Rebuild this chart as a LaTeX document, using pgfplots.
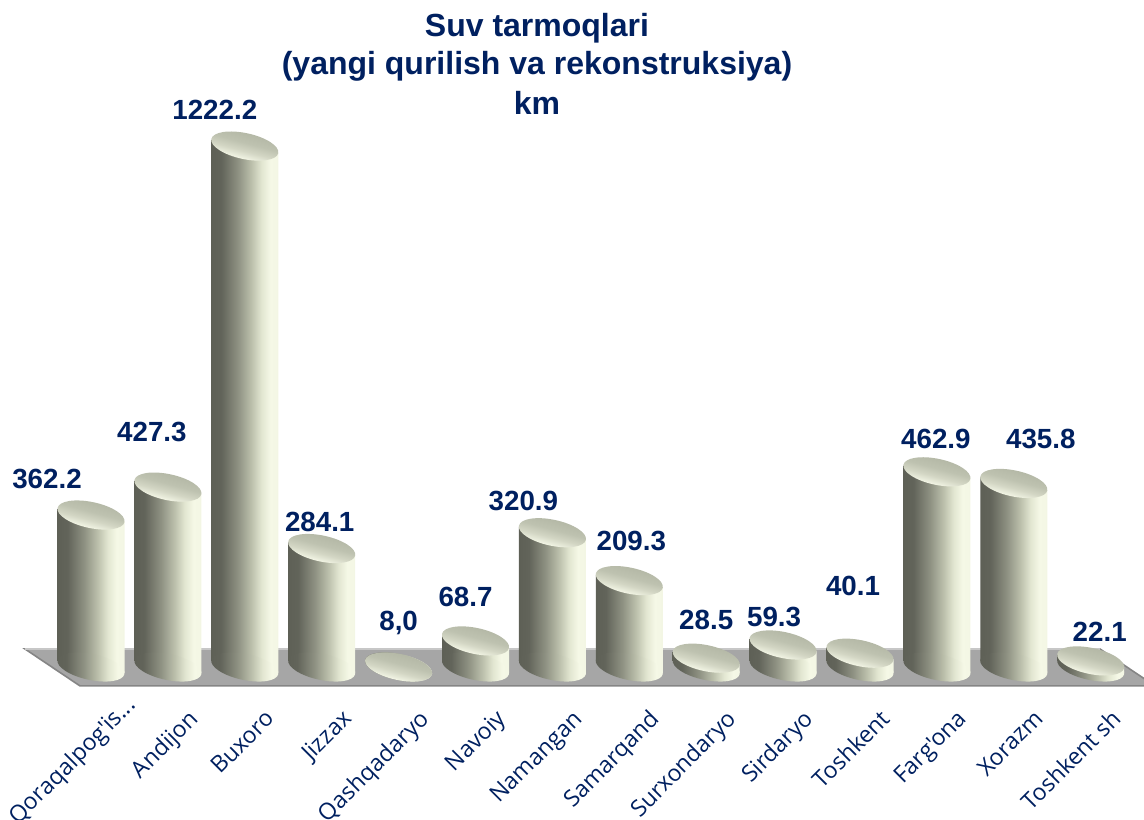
\documentclass[border=0pt]{standalone}
\usepackage{fontspec}
\setmainfont{Liberation Sans}
\newfontfamily\tickfont{Open Sans}
\usepackage{pgfplots}
\usepackage{pgfplotstable}
\pgfplotsset{compat=1.18}
\newcommand\qq{Qoraqalpog'is...\hspace*{-15pt}}
\definecolor{navy}{HTML}{002060}
\definecolor{ca}{HTML}{5E6056}
\definecolor{cb}{HTML}{62645A}
\definecolor{cc}{HTML}{8F9283}
\definecolor{cd}{HTML}{BCC0AC}
\definecolor{ce}{HTML}{E2E6D1}
\definecolor{cf}{HTML}{F5F8E6}
\definecolor{cg}{HTML}{F3F6E4}
\definecolor{ta}{HTML}{F4F6E6}
\definecolor{tb}{HTML}{E6E9D8}
\definecolor{tc}{HTML}{D3D6C4}
\definecolor{td}{HTML}{BEC2B0}
\definecolor{te}{HTML}{B0B4A2}
\pgfdeclarehorizontalshading{cylsh}{100bp}{
  color(0bp)=(ca); color(25bp)=(ca); color(32.5bp)=(cb); color(45bp)=(cc);
  color(55bp)=(cd); color(62.5bp)=(ce); color(69bp)=(cf); color(75bp)=(cg); color(100bp)=(cg)}
\pgfdeclareverticalshading{capsh}{100bp}{
  color(0bp)=(ta); color(34bp)=(ta); color(38bp)=(tb); color(44bp)=(tc); color(54bp)=(td); color(72bp)=(te); color(100bp)=(te)}
% rotated ellipse written as four Bezier arcs about (#1,#2)
\newcommand\ellpath[2]{(#1+33.45,#2-7.11) .. controls (#1+34.94,#2-0.08) and (#1+21.17,#2+8.79) .. (#1+2.70,#2+12.72)
  .. controls (#1-15.77,#2+16.65) and (#1-31.96,#2+14.14) .. (#1-33.45,#2+7.11)
  .. controls (#1-34.94,#2+0.08) and (#1-21.17,#2-8.79) .. (#1-2.70,#2-12.72)
  .. controls (#1+15.77,#2-16.65) and (#1+31.96,#2-14.14) .. (#1+33.45,#2-7.11) -- cycle}
\pgfdeclareplotmark{cyl}{%
  \begin{scope}[x=0.75pt,y=0.75pt]
    \pgfmathsetmacro\cylh{max(0,(\val-8)*0.429)}
    \shade[shading=cylsh,draw=none] (-33.5,6.1) -- (33.5,-6.1) -- (33.5,-6.1-\cylh) -- (-33.5,6.1-\cylh) -- cycle;
    \shade[shading=cylsh,draw=none] \ellpath{0}{-\cylh};
    \shade[shading=capsh,shading angle=-15,draw=none] \ellpath{0}{0};
  \end{scope}
}
\begin{document}
\begin{tikzpicture}
\path[use as bounding box] (0,0) rectangle (858pt,614.25pt);
\clip (0,0) rectangle (858pt,614.25pt);
\begin{axis}[
  at={(0,0)},anchor=south west,
  scale only axis,width=858pt,height=614.25pt,
  xmin=-1.1834,xmax=13.693,ymin=-346.4,ymax=1562.7,
  clip=false,
  axis line style={draw=none},
  major tick length=0pt,
  ytick=\empty,
  xtick={0,1,2,3,4,5,6,7,8,9,10,11,12,13},
  xticklabels={{\qq},Andijon,Buxoro,Jizzax,Qashqadaryo,Navoiy,Namangan,Samarqand,Surxondaryo,Sirdaryo,Toshkent,Farg'ona,Xorazm,Toshkent sh},
  xticklabel style={rotate=45,anchor=north east,font=\tickfont\fontsize{17.3pt}{20pt}\selectfont,text=navy,xshift=92*0.75pt,yshift=65*0.75pt,inner sep=0pt},
]
% floor
\addplot[fill=black!35,draw=black!48,line width=1.2pt,line join=miter] coordinates {
  (-0.858,49.9) (13.121,49.9) (13.836,-36.2) (-0.143,-36.2)} -- cycle;
\addplot[draw=black!22,line width=1pt] coordinates {(-0.858,49.9) (13.121,49.9)};
% cylinders
\addplot[scatter,only marks,mark=cyl,point meta=y,
  scatter/use mapped color={draw=none,fill=none},
  visualization depends on={y \as \val}]
  table[x=i,y=v]{
i v
0 362.2
1 427.3
2 1222.2
3 284.1
4 8.0
5 68.7
6 320.9
7 209.3
8 28.5
9 59.3
10 40.1
11 462.9
12 435.8
13 22.1
};
% labels
\addplot[only marks,mark=none,point meta=explicit symbolic,
  visualization depends on={value \thisrow{lx} \as \lx},
  visualization depends on={value \thisrow{ly} \as \ly},
  nodes near coords={\pgfplotspointmeta},
  every node near coord/.append style={anchor=center,font=\bfseries\fontsize{20.8pt}{24pt}\selectfont,text=navy,
    xshift=\lx*0.75pt,yshift=\ly*0.75pt}]
  table[x=i,y=v,meta=lab]{
i v lab lx ly
0 362.2 362.2 -44 36
1 427.3 427.3 -16 55
2 1222.2 1222.2 -30 36
3 284.1 284.1 -2 27
4 8.0 8,0 0 44
5 68.7 68.7 -10 44
6 320.9 320.9 -29 32
7 209.3 209.3 2 40
8 28.5 28.5 0 38
9 59.3 59.3 -9 28
10 40.1 40.1 -7 67
11 462.9 462.9 -1 33
12 435.8 435.8 27 44
13 22.1 22.1 9 29
};
\node[font=\bfseries\fontsize{24pt}{28pt}\selectfont,text=navy] at (rel axis cs:0.4694,0.9658) {Suv tarmoqlari};
\node[font=\bfseries\fontsize{24pt}{28pt}\selectfont,text=navy] at (rel axis cs:0.4694,0.9194) {(yangi qurilish va rekonstruksiya)};
\node[font=\bfseries\fontsize{24pt}{28pt}\selectfont,text=navy] at (rel axis cs:0.4694,0.8742) {km};
\end{axis}
\end{tikzpicture}
\end{document}
